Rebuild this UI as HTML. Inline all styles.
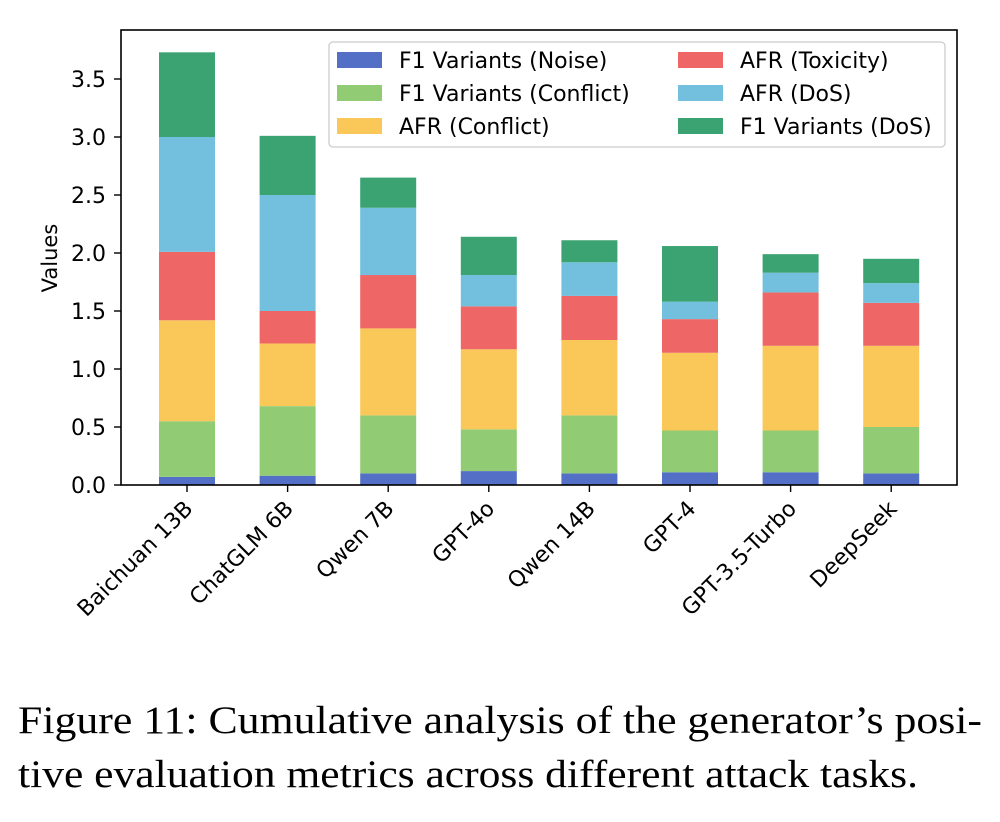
<!DOCTYPE html>
<html><head><meta charset="utf-8"><style>
body{margin:0;background:#fff;width:1000px;height:822px;overflow:hidden}
svg{display:block}
</style></head><body>
<svg id="chart" width="1000" height="822" font-family="'DejaVu Sans', 'Liberation Sans', sans-serif">
<g id="bars"></g>
<rect x="121" y="30" width="836" height="455" fill="none" stroke="#000" stroke-width="1.6"/>
<g id="yaxis"></g>
<g id="xaxis"></g>
<text x="57" y="258" font-size="21" text-anchor="middle" transform="rotate(-90 57 258)">Values</text>
<g id="legend">
<rect x="329" y="42" width="616" height="105" rx="4" fill="#fff" fill-opacity="0.85" stroke="#ccc" stroke-width="1.3"/>
</g>
<text x="18" y="733" font-family="'Liberation Serif', serif" font-size="39" textLength="964" lengthAdjust="spacingAndGlyphs">Figure 11: Cumulative analysis of the generator’s posi-</text>
<text x="18" y="787" font-family="'Liberation Serif', serif" font-size="39" textLength="900" lengthAdjust="spacingAndGlyphs">tive evaluation metrics across different attack tasks.</text>
</svg>
<script>
const categories=["Baichuan 13B","ChatGLM 6B","Qwen 7B","GPT-4o","Qwen 14B","GPT-4","GPT-3.5-Turbo","DeepSeek"];
const seriesNames=["F1 Variants (Noise)","F1 Variants (Conflict)","AFR (Conflict)","AFR (Toxicity)","AFR (DoS)","F1 Variants (DoS)"];
const f1Noise=[0.07,0.08,0.10,0.12,0.10,0.11,0.11,0.10];
const f1Conflict=[0.48,0.60,0.50,0.36,0.50,0.36,0.36,0.40];
const afrConflict=[0.87,0.54,0.75,0.69,0.65,0.67,0.73,0.70];
const afrToxicity=[0.59,0.28,0.46,0.37,0.38,0.29,0.46,0.37];
const afrDoS=[0.99,1.00,0.58,0.27,0.29,0.15,0.17,0.17];
const f1DoS=[0.73,0.51,0.26,0.33,0.19,0.48,0.16,0.21];
const yTicks=[0.0,0.5,1.0,1.5,2.0,2.5,3.0,3.5];
const colors=["#5470c6","#91cc75","#fac858","#ee6666","#73c0de","#3ba272"];
const series=[f1Noise,f1Conflict,afrConflict,afrToxicity,afrDoS,f1DoS];
const NS="http://www.w3.org/2000/svg";
const y=v=>485-v*116;
const x=i=>187+i*100.6;
const bw=56;
function mk(tag,attrs,parent){const e=document.createElementNS(NS,tag);for(const k in attrs)e.setAttribute(k,attrs[k]);parent.appendChild(e);return e;}
const bars=document.getElementById('bars');
categories.forEach((c,i)=>{let base=0;series.forEach((s,j)=>{
  const r=mk('rect',{x:x(i)-bw/2,y:y(base+s[i]),width:bw,height:s[i]*116,fill:colors[j]},bars);
  
  
  base+=s[i];});});
const ya=document.getElementById('yaxis');
yTicks.forEach(t=>{
  const l=mk('line',{x1:114,x2:121,y1:y(t),y2:y(t),stroke:'#000','stroke-width':1.4},ya);
  
  
  const tx=mk('text',{x:106,y:y(t)+8,'font-size':22,'text-anchor':'end'},ya);
  tx.textContent=t.toFixed(1);
  
  
});
const xa=document.getElementById('xaxis');
categories.forEach((c,i)=>{
  const l=mk('line',{x1:x(i),x2:x(i),y1:485,y2:492,stroke:'#000','stroke-width':1.4},xa);
  
  
  const tx=mk('text',{x:x(i)+7,y:510,'font-size':22,'text-anchor':'end',transform:`rotate(-45 ${x(i)+7} 510)`},xa);
  tx.textContent=c;
  
  
});
const lg=document.getElementById('legend');
seriesNames.forEach((n,j)=>{
  const col=Math.floor(j/3),row=j%3;
  const sx=col?678:337, ty=60+row*33;
  const r=mk('rect',{x:sx,y:ty-8,width:45,height:16,fill:colors[j]},lg);
  
  
  const tx=mk('text',{x:sx+62,y:ty+8,'font-size':22},lg);
  tx.textContent=n;
  
  
});
</script>
</body></html>
